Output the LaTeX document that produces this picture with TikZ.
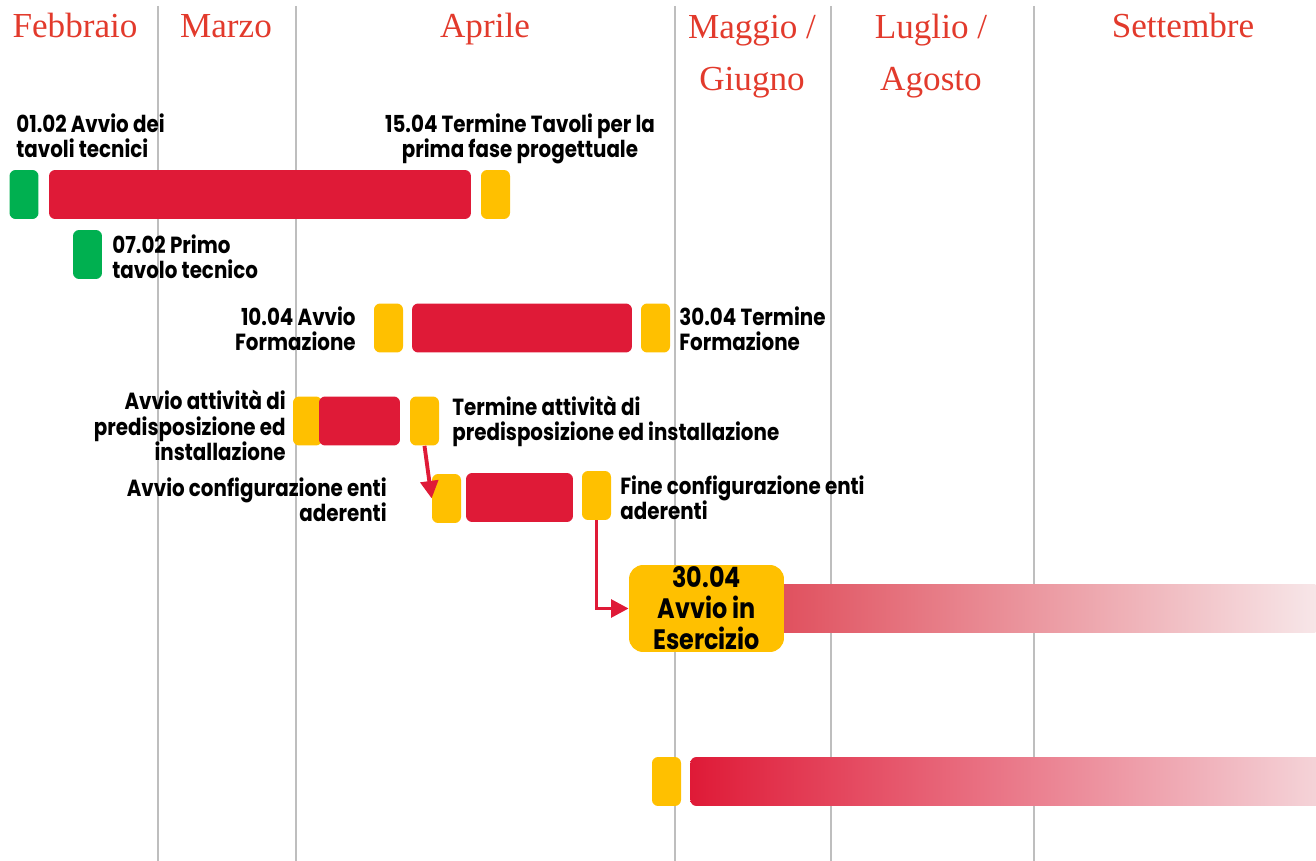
\documentclass[tikz,border=0pt]{standalone}
\usepackage{fontspec}
\setmainfont{Liberation Serif}
\newfontfamily\labelfont[FakeStretch=0.85]{Poppins}
\usetikzlibrary{arrows.meta}

\definecolor{taskred}{RGB}{223,26,55}
\definecolor{mileyellow}{RGB}{255,192,0}
\definecolor{milegreen}{RGB}{0,176,80}
\definecolor{monthred}{RGB}{226,58,44}
\definecolor{gridgray}{RGB}{190,190,190}
\definecolor{softred}{RGB}{224,80,94}
\definecolor{fadepink}{RGB}{247,230,232}
\definecolor{fadepinkb}{RGB}{245,218,222}

\begin{document}
\begin{tikzpicture}[
  x = 0.02cm, y = -0.02cm,
  month/.style = {text = monthred, font = \fontsize{20}{30}\selectfont, align = center, inner sep = 0},
  lbl/.style = {font = \labelfont\bfseries\fontsize{13.3}{14.7}\selectfont, inner sep = 0},
  mile/.style = {minimum width = 0.58cm, minimum height = 0.98cm, inner sep = 0, rounded corners = 3.5pt},
  start/.style = {mile, fill = milegreen},
  stop/.style = {mile, fill = mileyellow},
  task/.style = {minimum height = 0.98cm, inner sep = 0, rounded corners = 3.5pt, fill = taskred},
  fade/.style = {minimum height = 0.98cm, inner sep = 0, shade, shading = axis, shading angle = 90},
  gridline/.style = {draw = gridgray, line width = 1.1pt},
  link/.style = {draw = taskred, line width = 2.2pt, -{Triangle[length = 10pt, width = 10pt]}}
  ]
  \useasboundingbox (0,0) rectangle (1316,861);

  % month columns
  \foreach \x in {158,296,675,831,1034}
    \draw[gridline] (\x,6) -- (\x,861);
  \node[month, anchor = base] (feb) at (75,38) {Febbraio};
  \node[month, anchor = base] (mar) at (226,38) {Marzo};
  \node[month, anchor = base] (apr) at (485,38) {Aprile};
  \node[month, anchor = base] (mag) at (752,91) {Maggio /\\Giugno};
  \node[month, anchor = base] (lug) at (931,91) {Luglio /\\Agosto};
  \node[month, anchor = base] (set) at (1183,38) {Settembre};

  % tavoli tecnici
  \node[start] (m1a) at (24,194.5) {};
  \node[task, minimum width = 8.44cm] (t1) at (260,194.5) {};
  \node[stop] (m1b) at (495.5,194.5) {};
  \node[lbl, anchor = base west, align = left] (l1a) at (16,158) {01.02 Avvio dei\\tavoli tecnici};
  \node[lbl, anchor = base, align = center] (l1b) at (520,158) {15.04 Termine Tavoli per la\\prima fase progettuale};
  \node[start] (m2) at (87.5,254.5) {};
  \node[lbl, anchor = base west, align = left] (l2) at (112,279) {07.02 Primo\\tavolo tecnico};

  % formazione
  \node[stop] (m3a) at (388.5,328) {};
  \node[task, minimum width = 4.4cm] (t3) at (522,328) {};
  \node[stop] (m3b) at (655.5,328) {};
  \node[lbl, anchor = base east, align = right] (l3a) at (356,351) {10.04 Avvio\\Formazione};
  \node[lbl, anchor = base west, align = left] (l3b) at (679,351) {30.04 Termine\\Formazione};

  % predisposizione
  \node[stop] (m4a) at (307.5,421) {};
  \node[task, minimum width = 1.62cm] (t4) at (359.5,421) {};
  \node[stop] (m4b) at (424.5,421) {};
  \node[lbl, anchor = base east, align = right] (l4a) at (286,461) {Avvio attivit\`a di\\predisposizione ed\\installazione};
  \node[lbl, anchor = base west, align = left] (l4b) at (452,441) {Termine attivit\`a di\\predisposizione ed installazione};

  % configurazione enti
  \node[stop] (m5a) at (446.5,498.5) {};
  \node[task, minimum width = 2.14cm] (t5) at (519.5,497.5) {};
  \node[stop] (m5b) at (596.5,495.5) {};
  \node[lbl, anchor = base east, align = right] (l5a) at (387,522) {Avvio configurazione enti\\aderenti};
  \node[lbl, anchor = base west, align = left] (l5b) at (620,520) {Fine configurazione enti\\aderenti};

  % esercizio
  \node[fade, left color = softred, right color = fadepink, minimum width = 10.7cm, anchor = west] (f6) at (780,608.5) {};
  \node[fill = mileyellow, rounded corners = 8pt, minimum width = 3.1cm, minimum height = 1.74cm, inner sep = 0,
        align = center, font = \labelfont\bfseries\fontsize{16}{17.6}\selectfont] (ese) at (706.5,608.5) {30.04\\Avvio in\\Esercizio};

  \node[stop] (m7) at (666.5,781.5) {};
  \node[fade, left color = taskred, right color = fadepinkb, rounded corners = 3.5pt, minimum width = 13cm, anchor = west] (f7) at (690,781.5) {};

  \draw[link] (m4b.south) -- (m5a.west);
  \draw[link] (m5b.south) |- (ese.west);
\end{tikzpicture}
\end{document}
